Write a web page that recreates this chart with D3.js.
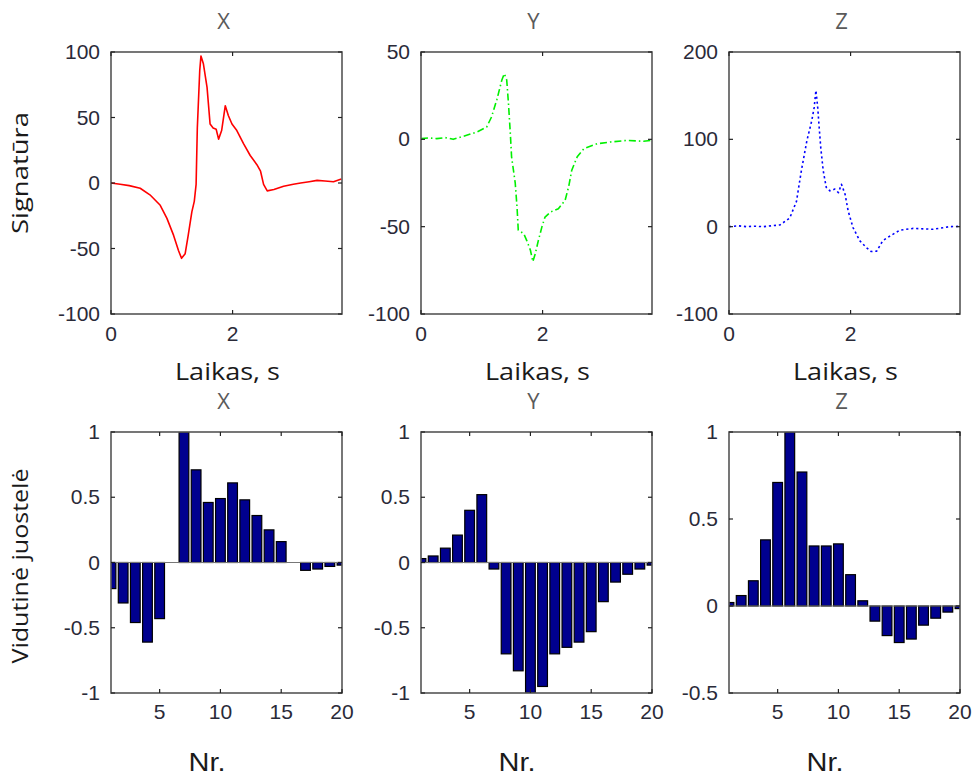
<!DOCTYPE html>
<html>
<head>
<meta charset="utf-8">
<script src="https://cdn.jsdelivr.net/npm/d3@7"></script>
<style>
  html, body { margin: 0; padding: 0; background: #fff; }
  svg { display: block; }
</style>
</head>
<body>
<svg id="chart" width="977" height="776"></svg>
<script>
// ---- Signal traces (time in s, amplitude) ----
const sigXTime = [0, 0.15, 0.3, 0.48, 0.64, 0.81, 0.92, 1.03, 1.11, 1.16, 1.22, 1.27, 1.33, 1.37, 1.40, 1.42, 1.46, 1.48, 1.52, 1.58, 1.63, 1.68, 1.73, 1.77, 1.82, 1.88, 1.93, 1.99, 2.07, 2.18, 2.29, 2.40, 2.46, 2.51, 2.57, 2.68, 2.84, 3.00, 3.12, 3.26, 3.39, 3.52, 3.66, 3.79];
const sigXValue = [0, -1, -2, -4, -9, -17, -27, -40, -51.5, -57.5, -54, -40, -22, -14, -1, 42, 86, 97, 91, 73, 45, 42, 41, 33.5, 40, 59, 51.5, 45, 40, 30, 21, 14, 9, -1, -6, -5, -2.5, -1, 0, 1, 2, 1.5, 1, 3];

const sigYTime = [0, 0.13, 0.26, 0.40, 0.53, 0.75, 0.92, 1.08, 1.16, 1.25, 1.33, 1.37, 1.41, 1.44, 1.47, 1.49, 1.55, 1.58, 1.60, 1.69, 1.74, 1.80, 1.84, 1.88, 1.93, 1.99, 2.04, 2.13, 2.26, 2.37, 2.43, 2.48, 2.57, 2.68, 2.90, 3.12, 3.39, 3.66, 3.79];
const sigYValue = [0.4, 0.8, 0.4, 1, 0, 2.3, 4.2, 7, 12.8, 23, 34, 37.6, 34, 20, 3, -10, -25, -39, -52, -54, -58, -63.5, -70, -65.5, -58, -50, -44.5, -41.6, -39.7, -35, -27, -17.7, -10, -5.3, -2.5, -1.5, -0.6, -1.1, -0.6];

const sigZTime = [0, 0.15, 0.29, 0.42, 0.56, 0.70, 0.84, 1.00, 1.11, 1.19, 1.28, 1.36, 1.40, 1.43, 1.46, 1.48, 1.51, 1.55, 1.60, 1.66, 1.74, 1.80, 1.85, 1.91, 1.96, 2.04, 2.15, 2.26, 2.34, 2.43, 2.53, 2.65, 2.81, 3.03, 3.20, 3.36, 3.63, 3.81];
const sigZValue = [0, 1, 0, 0.5, 0, 1, 2, 10, 29, 64, 98, 121, 136, 156, 136, 117, 90, 64, 45, 41, 43, 39, 48.5, 37, 18, -1, -16, -24, -28.5, -28, -16, -10.7, -4, -2, -2.5, -3, 0, 0.4];

// ---- Mean band values, bands 1..20 ----
const bandNr = d3.range(1, 21);
const bandX = [-0.2, -0.31, -0.46, -0.61, -0.43, 0, 1.0, 0.71, 0.46, 0.49, 0.61, 0.48, 0.36, 0.25, 0.16, 0, -0.06, -0.05, -0.03, -0.02];
const bandY = [0.03, 0.05, 0.11, 0.21, 0.40, 0.52, -0.05, -0.70, -0.83, -1.0, -0.95, -0.70, -0.65, -0.61, -0.53, -0.30, -0.15, -0.09, -0.05, -0.02];
const bandZ = [0.02, 0.06, 0.145, 0.38, 0.71, 1.0, 0.77, 0.345, 0.345, 0.357, 0.18, 0.03, -0.087, -0.17, -0.21, -0.19, -0.11, -0.07, -0.035, -0.015];

// ---- Axis ticks ----
const timeTicks = [0, 2];
const nrTicks = [5, 10, 15, 20];
const sigYTicksX = [-100, -50, 0, 50, 100];
const sigYTicksY = [-100, -50, 0, 50];
const sigYTicksZ = [-100, 0, 100, 200];
const bandTicksXY = [-1, -0.5, 0, 0.5, 1];
const bandTicksZ = [-0.5, 0, 0.5, 1];

const axisNames = ["X", "Y", "Z"];

// ---- Layout ----
const colLeft = [111, 421, 729];
const colWidth = 231;
const topRow = { y0: 52, y1: 314 };
const botRow = { y0: 432, y1: 693 };

const svg = d3.select("#chart");
const tickFont = "'Liberation Sans', Arial, sans-serif";
const labelFont = "'Open Sans', 'Noto Sans', sans-serif";
const frameColor = "#555";
const tickTextColor = "#2a2a38";
const labelColor = "#1a1a1a";

// plain ASCII hyphen for negatives, as in the tick labels
const fmtNum = t => String(t);

// Draws a boxed frame with inward ticks on all four sides plus tick labels
function drawFrame(g, x, y, xTicks, yTicks, xLabelY) {
  const [x0, x1] = x.range();
  const [y1, y0] = y.range();
  const tl = 4;
  g.append("rect")
    .attr("x", x0).attr("y", y0)
    .attr("width", x1 - x0).attr("height", y1 - y0)
    .attr("fill", "none").attr("stroke", frameColor).attr("stroke-width", 1.6);
  xTicks.forEach(t => {
    const px = x(t);
    g.append("line").attr("x1", px).attr("x2", px).attr("y1", y1).attr("y2", y1 - tl)
      .attr("stroke", "#222").attr("stroke-width", 1.2);
    g.append("line").attr("x1", px).attr("x2", px).attr("y1", y0).attr("y2", y0 + tl)
      .attr("stroke", "#222").attr("stroke-width", 1.2);
    g.append("text").attr("x", px).attr("y", xLabelY)
      .attr("text-anchor", "middle").attr("dominant-baseline", "middle")
      .attr("font-family", tickFont).attr("font-size", 21).attr("fill", tickTextColor)
      .text(fmtNum(t));
  });
  yTicks.forEach(t => {
    const py = y(t);
    g.append("line").attr("x1", x0).attr("x2", x0 + tl).attr("y1", py).attr("y2", py)
      .attr("stroke", "#222").attr("stroke-width", 1.2);
    g.append("line").attr("x1", x1).attr("x2", x1 - tl).attr("y1", py).attr("y2", py)
      .attr("stroke", "#222").attr("stroke-width", 1.2);
    g.append("text").attr("x", x0 - 11).attr("y", py + 1.5)
      .attr("text-anchor", "end").attr("dominant-baseline", "middle")
      .attr("font-family", tickFont).attr("font-size", 21).attr("fill", tickTextColor)
      .text(fmtNum(t));
  });
}

function title(g, cx, cy, txt) {
  g.append("text").attr("x", cx).attr("y", cy)
    .attr("text-anchor", "middle").attr("dominant-baseline", "middle")
    .attr("font-family", labelFont).attr("font-size", 22).attr("fill", "#5a5a5a")
    .text(txt);
}

// Stretched label text with a fixed drawn length
function label(parent, transform, txt, family, size, len) {
  parent.append("text").attr("transform", transform)
    .attr("text-anchor", "middle")
    .attr("font-family", family).attr("font-size", size).attr("fill", labelColor)
    .attr("textLength", len).attr("lengthAdjust", "spacingAndGlyphs")
    .text(txt);
}

// ---- Top row: time signals ----
const signals = [
  { t: sigXTime, v: sigXValue, dom: [-100, 100], ticks: sigYTicksX, color: "#ff0000", dash: null },
  { t: sigYTime, v: sigYValue, dom: [-100, 50], ticks: sigYTicksY, color: "#00f000", dash: "7,3,1.5,3" },
  { t: sigZTime, v: sigZValue, dom: [-100, 200], ticks: sigYTicksZ, color: "#0000ff", dash: "2.2,2.8" }
];

signals.forEach((s, i) => {
  const g = svg.append("g");
  const x = d3.scaleLinear().domain([0, 3.8]).range([colLeft[i], colLeft[i] + colWidth]);
  const y = d3.scaleLinear().domain(s.dom).range([topRow.y1, topRow.y0]);
  const pts = s.t.map((t, k) => [t, s.v[k]]);
  const line = d3.line().x(d => x(d[0])).y(d => y(d[1]));
  g.append("path").datum(pts)
    .attr("d", line)
    .attr("fill", "none").attr("stroke", s.color).attr("stroke-width", 1.6)
    .attr("stroke-linejoin", "round")
    .attr("stroke-dasharray", s.dash);
  drawFrame(g, x, y, timeTicks, s.ticks, 335);
  title(g, colLeft[i] + colWidth / 2 - 3, 23, axisNames[i]);
  label(g, `translate(${colLeft[i] + colWidth / 2 + 1},380)`, "Laikas, s", labelFont, 24, 105);
});

// ---- Bottom row: mean band bars ----
const bands = [
  { v: bandX, dom: [-1, 1], ticks: bandTicksXY },
  { v: bandY, dom: [-1, 1], ticks: bandTicksXY },
  { v: bandZ, dom: [-0.5, 1], ticks: bandTicksZ }
];

bands.forEach((b, i) => {
  const g = svg.append("g");
  const x = d3.scaleLinear().domain([1, 20]).range([colLeft[i], colLeft[i] + colWidth]);
  const y = d3.scaleLinear().domain(b.dom).range([botRow.y1, botRow.y0]);
  const clipId = "clip" + i;
  svg.append("clipPath").attr("id", clipId).append("rect")
    .attr("x", x(1)).attr("y", y(b.dom[1]))
    .attr("width", x(20) - x(1)).attr("height", y(b.dom[0]) - y(b.dom[1]));
  const bw = x(1.8) - x(1);
  const bars = g.append("g").attr("clip-path", `url(#${clipId})`);
  bars.selectAll("rect").data(bandNr.map((n, k) => [n, b.v[k]]).filter(d => d[1] !== 0))
    .join("rect")
    .attr("x", d => x(d[0]) - bw / 2)
    .attr("y", d => y(Math.max(0, d[1])))
    .attr("width", bw)
    .attr("height", d => Math.abs(y(d[1]) - y(0)))
    .attr("fill", "#00008f").attr("stroke", "#000").attr("stroke-width", 1.2);
  bars.append("line")
    .attr("x1", x(1)).attr("x2", x(20)).attr("y1", y(0)).attr("y2", y(0))
    .attr("stroke", "#777").attr("stroke-width", 1.2);
  drawFrame(g, x, y, nrTicks, b.ticks, 713);
  title(g, colLeft[i] + colWidth / 2 - 3, 403, axisNames[i]);
  label(g, `translate(${colLeft[i] + colWidth / 2 - 19.5},771)`, "Nr.", tickFont, 25, 37);
});

// ---- Row labels ----
label(svg, "translate(28,173) rotate(-90)", "Signatūra", labelFont, 22, 122);
label(svg, "translate(28,566) rotate(-90)", "Vidutinė juostelė", labelFont, 22, 195);
</script>
</body>
</html>
